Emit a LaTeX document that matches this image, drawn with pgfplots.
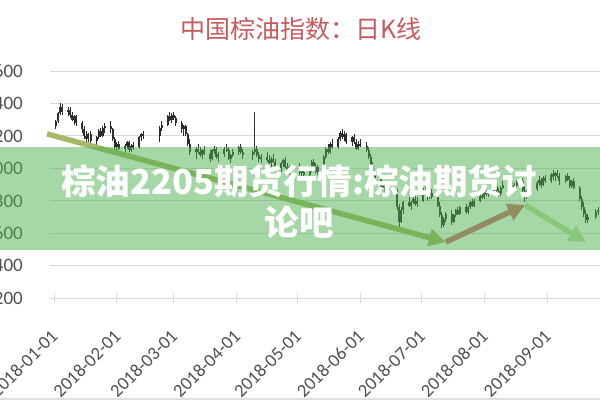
\documentclass[border=0pt]{standalone}
\usepackage{pgfplots}
\pgfplotsset{compat=1.18}
\usepackage{pgfplotstable}
\usepackage{fontspec}
\setmainfont{Carlito}
\newfontfamily\cjk{Noto Sans CJK SC}
\usetikzlibrary{arrows.meta}
\definecolor{candle}{RGB}{45,45,45}
\definecolor{gridc}{RGB}{217,217,217}
\definecolor{labc}{RGB}{80,80,80}
\definecolor{titlered}{RGB}{200,90,95}
\definecolor{bandg}{RGB}{78,176,78}
\definecolor{arrA}{RGB}{165,185,105}
\definecolor{arrB}{RGB}{215,105,115}
\definecolor{arrC}{RGB}{195,228,165}

\pgfplotstableread{
d o h l c
1 6260 6300 6240 6290
2 6290 6350 6280 6340
3 6340 6400 6330 6380
4 6380 6395 6330 6350
7 6350 6380 6320 6360
8 6360 6375 6310 6330
9 6330 6350 6290 6300
10 6300 6330 6270 6320
11 6320 6330 6260 6280
14 6280 6290 6220 6240
15 6240 6260 6180 6200
16 6200 6230 6160 6180
17 6180 6220 6160 6210
18 6210 6230 6150 6170
21 6170 6200 6140 6190
22 6190 6240 6180 6230
23 6230 6250 6190 6200
24 6200 6260 6190 6250
25 6250 6280 6220 6260
28 6260 6290 6220 6240
29 6240 6250 6170 6180
30 6180 6190 6110 6130
31 6130 6160 6100 6150
32 6150 6170 6110 6120
35 6120 6150 6090 6140
36 6140 6170 6120 6160
37 6160 6170 6100 6110
38 6110 6150 6100 6140
39 6140 6160 6110 6130
42 6130 6200 6120 6190
43 6190 6220 6170 6210
44 6210 6230 6180 6200
52 6200 6260 6160 6250
53 6250 6290 6230 6270
56 6270 6330 6260 6320
57 6320 6350 6290 6300
58 6300 6340 6280 6330
59 6330 6350 6300 6310
60 6310 6320 6260 6280
63 6280 6290 6220 6240
64 6240 6270 6200 6260
65 6260 6270 6200 6210
66 6210 6220 6140 6150
67 6150 6180 6080 6100
70 6100 6130 6060 6120
71 6120 6150 6090 6100
72 6100 6130 6070 6080
73 6080 6120 6060 6110
74 6110 6140 6080 6090
77 6090 6110 6040 6060
78 6060 6120 6050 6110
79 6110 6140 6090 6120
80 6120 6130 6060 6070
81 6070 6100 6040 6090
84 6090 6130 6070 6120
85 6120 6150 6100 6110
86 6110 6130 6050 6060
87 6060 6090 6030 6080
88 6080 6120 6070 6100
91 6100 6140 6080 6130
92 6130 6150 6090 6100
93 6100 6120 6060 6080
98 6080 6110 6050 6100
99 6100 6350 6090 6120
100 6120 6140 6070 6080
101 6080 6100 6040 6060
102 6060 6090 6030 6070
105 6070 6100 6040 6050
106 6050 6080 6010 6030
107 6030 6070 6010 6060
108 6060 6090 6030 6040
109 6040 6060 5990 6000
112 6000 6040 5980 6030
113 6030 6060 6010 6050
114 6050 6070 6000 6010
115 6010 6030 5970 5990
116 5990 6020 5960 6010
121 6010 6030 5960 5970
122 5970 6000 5940 5980
123 5980 6010 5950 5960
126 5960 6000 5940 5990
127 5990 6050 5980 6040
128 6040 6060 6000 6010
129 6010 6030 5970 5980
130 5980 6020 5960 6010
133 6010 6080 6000 6070
134 6070 6130 6060 6120
135 6120 6150 6090 6100
136 6100 6160 6090 6150
137 6150 6180 6120 6130
140 6130 6190 6120 6180
141 6180 6230 6170 6220
142 6220 6240 6180 6190
143 6190 6230 6170 6210
144 6210 6220 6150 6160
147 6160 6200 6140 6190
148 6190 6210 6150 6160
149 6160 6180 6110 6120
150 6120 6170 6110 6150
151 6150 6180 6130 6140
154 6140 6160 6100 6110
155 6110 6130 6060 6070
156 6070 6090 6010 6020
157 6020 6040 5950 5960
158 5960 5990 5920 5940
161 5940 5950 5870 5880
162 5880 5920 5860 5900
163 5900 5910 5840 5850
164 5850 5890 5830 5880
165 5880 5900 5840 5860
169 5860 5870 5740 5760
170 5760 5780 5640 5670
171 5670 5760 5660 5740
172 5740 5800 5720 5790
175 5790 5820 5760 5770
176 5770 5800 5740 5790
177 5790 5830 5780 5810
178 5810 5830 5770 5780
179 5780 5820 5760 5800
182 5800 5880 5790 5860
183 5860 5890 5830 5840
184 5840 5870 5800 5820
185 5820 5860 5810 5850
186 5850 5870 5810 5820
189 5820 5830 5760 5770
190 5770 5790 5700 5710
191 5710 5730 5630 5650
192 5650 5700 5640 5690
193 5690 5730 5670 5720
196 5720 5740 5650 5670
197 5670 5720 5660 5710
198 5710 5750 5700 5740
199 5740 5760 5710 5720
200 5720 5770 5710 5760
203 5760 5780 5720 5730
204 5730 5770 5720 5760
205 5760 5800 5750 5790
206 5790 5810 5760 5770
207 5770 5810 5760 5800
210 5800 5840 5790 5830
211 5830 5860 5810 5820
212 5820 5870 5810 5860
213 5860 5880 5830 5840
214 5840 5870 5820 5860
217 5860 5900 5850 5890
218 5890 5910 5850 5860
219 5860 5880 5820 5840
220 5840 5890 5830 5880
221 5880 5920 5870 5900
224 5900 5940 5880 5930
225 5930 5950 5890 5900
226 5900 5920 5850 5870
227 5870 5910 5860 5890
228 5890 5930 5880 5920
231 5920 5940 5850 5860
232 5860 5890 5790 5820
233 5820 5870 5810 5860
234 5860 5900 5850 5880
235 5880 5910 5860 5870
238 5870 5920 5860 5910
239 5910 5950 5890 5930
240 5930 5940 5880 5900
241 5900 5950 5890 5940
242 5940 5960 5910 5920
245 5920 5970 5910 5960
246 5960 5990 5930 5950
247 5950 5980 5920 5970
248 5970 5990 5940 5950
249 5950 5970 5900 5920
252 5920 5960 5910 5950
253 5950 5970 5920 5930
254 5930 5950 5880 5890
255 5890 5930 5880 5920
256 5920 5940 5870 5880
259 5880 5890 5800 5810
260 5810 5830 5740 5760
261 5760 5790 5700 5720
262 5720 5740 5660 5680
263 5680 5720 5660 5700
267 5700 5750 5690 5730
268 5730 5760 5710 5740
}\kline

\begin{document}
\begin{tikzpicture}
\useasboundingbox (0pt,0pt) rectangle (600pt,400pt);
\begin{axis}[
  at={(49.9pt,102pt)}, anchor=south west,
  scale only axis, width=554.2pt, height=227pt,
  xmin=-2, xmax=271, ymin=5200, ymax=6600,
  clip=false,
  axis line style={draw=none},
  ymajorgrids, grid style={draw=gridc, line width=0.9pt},
  ytick={5200,5400,...,6600},
  ytick style={draw=none},
  ytick pos=left, xtick pos=bottom,
  xtick={0,31,59,90,120,151,181,212,243},
  xticklabels={2018-01-01,2018-02-01,2018-03-01,2018-04-01,2018-05-01,2018-06-01,2018-07-01,2018-08-01,2018-09-01},
  xtick style={draw=gridc, line width=0.9pt},
  major tick length=10pt, tick align=center,
  /pgf/number format/assume math mode=true,
  /pgf/number format/1000 sep={},
  tick label style={text=labc},
  yticklabel style={font=\fontsize{19}{19}\selectfont, anchor=east, inner sep=0pt, xshift=-21.9pt},
  xticklabel style={font=\fontsize{18.5}{18.5}\selectfont, xshift=0.5pt, yshift=-30pt, rotate=45, anchor=east, inner sep=0pt},
]
\addplot[draw=none, mark=none, forget plot,
  error bars/.cd, y dir=both, y explicit, error mark=none,
  error bar style={draw=candle, line width=1pt}]
  table[x=d, y expr={(\thisrow{h}+\thisrow{l})/2}, y error expr={(\thisrow{h}-\thisrow{l})/2}] {\kline};
\addplot[draw=none, mark=none, forget plot,
  error bars/.cd, y dir=both, y explicit, error mark=none,
  error bar style={draw=candle, line width=2pt}]
  table[x=d, y expr={(\thisrow{o}+\thisrow{c})/2}, y error expr={max(abs(\thisrow{o}-\thisrow{c})/2,7)}] {\kline};
\addplot[no marks, draw=arrA, line width=5.5pt, -{Triangle[length=17pt,width=17pt]}] coordinates {(-3.4,6212) (193,5545)};
\addplot[no marks, draw=arrB, line width=5.5pt, -{Triangle[length=17pt,width=17pt]}] coordinates {(193,5545) (232,5774)};
\addplot[no marks, draw=arrC, line width=5.5pt, -{Triangle[length=17pt,width=17pt]}] coordinates {(232,5774) (262,5545)};
\end{axis}
\fill[bandg, fill opacity=0.5] (0pt,150pt) rectangle (600pt,253pt);
\node[font=\cjk\bfseries\fontsize{34.5}{34.5}\selectfont, text=white] at (299pt,219pt) {棕油2205期货行情:棕油期货讨};
\node[font=\cjk\bfseries\fontsize{34.5}{34.5}\selectfont, text=white] at (299pt,178pt) {论吧};
\node[font=\cjk\fontsize{25}{25}\selectfont, text=titlered] at (301pt,371pt) {中国棕油指数：日K线};
\draw[gray!25, line width=1.5pt] (0pt,1pt) -- (600pt,1pt);
\end{tikzpicture}
\end{document}
